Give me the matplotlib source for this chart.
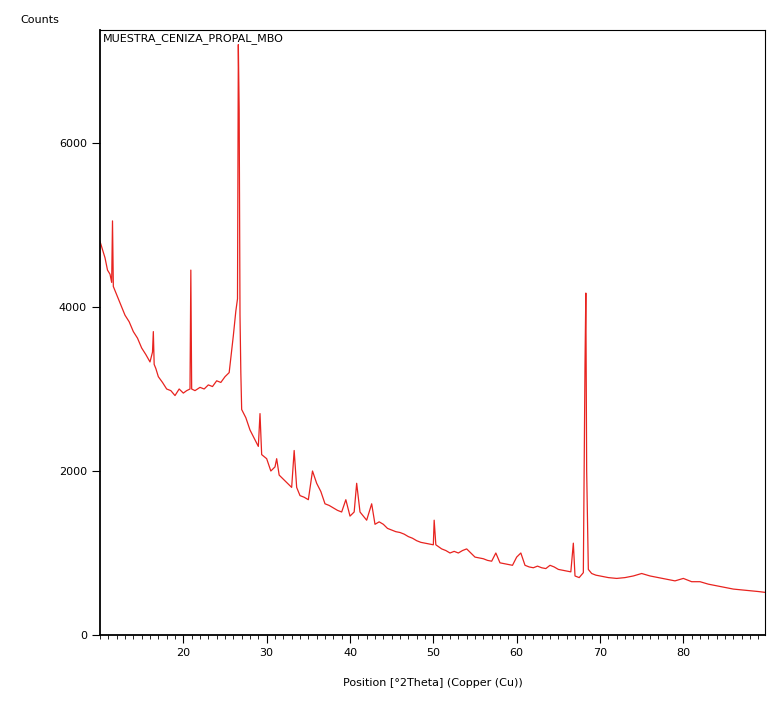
import matplotlib
matplotlib.use("Agg")
import matplotlib.pyplot as plt
from matplotlib.ticker import MultipleLocator, FixedLocator

two_theta = [10,10.3,10.6,10.9,11.2,11.4,11.5,11.6,11.8,12.2,12.6,13,13.5,14,14.5,15,15.5,16,16.3,16.4,16.5,16.7,17,17.5,18,18.5,19,19.5,20,20.4,20.8,20.9,21.0,21.4,22,22.5,23,23.5,24,24.5,25,25.5,26,26.3,26.5,26.6,26.7,26.8,26.9,27,27.5,28,28.5,29,29.2,29.4,30,30.5,31,31.2,31.5,32,32.5,33,33.3,33.6,34,34.5,35,35.5,36,36.5,37,37.5,38,38.5,39,39.5,40,40.5,40.8,41.2,42,42.6,43,43.5,44,44.5,45,45.5,46,46.5,47,47.5,48,48.5,49,49.5,50,50.1,50.3,51,51.5,52,52.5,53,53.5,54,54.5,55,55.5,56,56.5,57,57.5,58,58.5,59,59.5,60,60.5,61,61.5,62,62.5,63,63.5,64,64.5,65,65.5,66,66.5,66.8,67,67.5,68,68.2,68.3,68.4,68.5,68.6,69,69.5,70,71,72,73,74,75,76,77,78,79,80,81,82,83,84,85,86,87,88,89,89.8]
counts = [4800,4700,4600,4450,4400,4300,5050,4250,4200,4100,4000,3900,3820,3700,3620,3500,3420,3330,3450,3700,3300,3250,3150,3080,3000,2980,2920,3000,2950,2980,3000,4450,3000,2980,3020,3000,3050,3030,3100,3080,3150,3200,3650,3950,4100,7200,6400,3900,3200,2750,2650,2500,2400,2300,2700,2200,2150,2000,2050,2150,1950,1900,1850,1800,2250,1800,1700,1680,1650,2000,1850,1750,1600,1580,1550,1520,1500,1650,1450,1500,1850,1500,1400,1600,1350,1380,1350,1300,1280,1260,1250,1230,1200,1180,1150,1130,1120,1110,1100,1400,1100,1050,1030,1000,1020,1000,1030,1050,1000,950,940,930,910,900,1000,880,870,860,850,950,1000,850,830,820,840,820,810,850,830,800,790,780,770,1120,720,700,760,3300,4170,2000,1400,800,750,730,720,700,690,700,720,750,720,700,680,660,690,650,650,620,600,580,560,550,540,530,520]
x_ticks = [20, 30, 40, 50, 60, 70, 80]
y_ticks = [0, 2000, 4000, 6000]

fig = plt.figure(figsize=(7.75, 7.09), dpi=100)
ax = fig.add_axes([100/775, 1-635/709, 665/775, 605/709])
ax.plot(two_theta, counts, color="#e8231f", lw=0.9)
ax.set_xlim(10, 89.8)
ax.set_ylim(0, 7378)
ax.xaxis.set_major_locator(FixedLocator(x_ticks))
ax.xaxis.set_minor_locator(MultipleLocator(1))
ax.yaxis.set_major_locator(FixedLocator(y_ticks))
ax.tick_params(labelsize=8, length=6)
ax.tick_params(which="minor", length=3)
for s in ax.spines.values():
    s.set_linewidth(0.8)
ax.spines["left"].set_linewidth(1.3)
ax.spines["bottom"].set_linewidth(1.3)
ax.text(0.005, 0.995, "MUESTRA_CENIZA_PROPAL_MBO", transform=ax.transAxes, va="top", ha="left", fontsize=8)
fig.text(20/775, 1-20/709, "Counts", fontsize=8, va="center")
ax.set_xlabel("Position [°2Theta] (Copper (Cu))", fontsize=8, labelpad=14)
fig.savefig("out.png")
